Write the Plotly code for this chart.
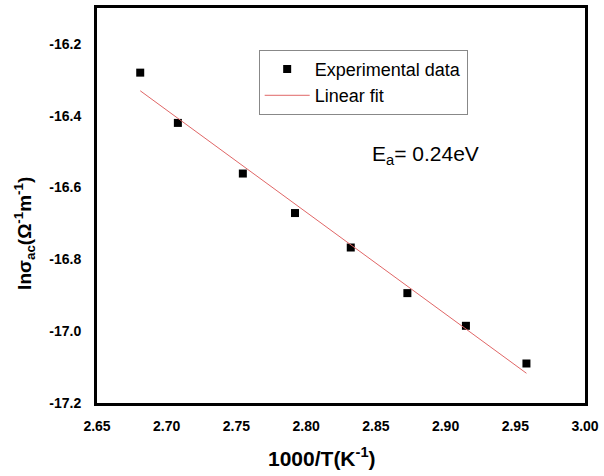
import numpy as np
import plotly.graph_objects as go

# Inverse temperature (1000/T, K^-1) and ln of AC conductivity
inv_T = [2.681, 2.708, 2.7546, 2.792, 2.832, 2.8726, 2.9146, 2.958]
ln_sigma = [-16.28, -16.42, -16.561, -16.671, -16.767, -16.894, -16.985, -17.09]

x_ticks = [2.65, 2.70, 2.75, 2.80, 2.85, 2.90, 2.95, 3.00]
y_ticks = [-17.2, -17.0, -16.8, -16.6, -16.4, -16.2]

# Least-squares Arrhenius fit
slope, intercept = np.polyfit(inv_T, ln_sigma, 1)
fit_x = [inv_T[0], inv_T[-1]]
fit_y = [slope * v + intercept for v in fit_x]

FONT = "Liberation Sans"

fig = go.Figure()
fig.add_trace(go.Scatter(
    x=inv_T, y=ln_sigma, mode="markers", name="Experimental data",
    marker=dict(symbol="square", size=8, color="black"),
))
fig.add_trace(go.Scatter(
    x=fit_x, y=fit_y, mode="lines", name="Linear fit",
    line=dict(color="#e06666", width=1),
))

axis_common = dict(
    showgrid=False, zeroline=False, showline=True, linecolor="black",
    linewidth=3, mirror=True, ticks="",
    tickfont=dict(family=FONT, size=14, color="black", weight=700),
)

fig.update_xaxes(range=[2.65, 3.00], tickvals=x_ticks,
                 ticktext=[f"{v:.2f}" for v in x_ticks],
                 ticklabelstandoff=8, **axis_common)
fig.update_yaxes(range=[-17.2, -16.1], tickvals=y_ticks,
                 ticktext=[f"{v:.1f}" for v in y_ticks],
                 ticklabelstandoff=10, **axis_common)

fig.add_annotation(
    xref="paper", yref="paper", x=(324 - 97) / 492, y=-(457 - 403) / 398,
    text="<b>1000/T(K<sup>-1</sup>)</b>", showarrow=False,
    font=dict(family=FONT, size=21, color="black"),
    xanchor="center", yanchor="middle",
)
fig.add_annotation(
    xref="paper", yref="paper", x=-(97 - 24) / 492, y=(403 - 232) / 398,
    text="<b>lnσ<sub>ac</sub>(Ω<sup>-1</sup>m<sup>-1</sup>)</b>", showarrow=False,
    textangle=-90,
    font=dict(family=FONT, size=19, color="black"),
    xanchor="center", yanchor="middle",
)
fig.add_annotation(
    x=2.8456, y=-16.51, text="E<sub>a</sub>= 0.24eV", showarrow=False,
    font=dict(family=FONT, size=21, color="black"),
    xanchor="left", yanchor="middle",
)

fig.update_layout(
    width=604, height=476,
    margin=dict(l=97, r=15, t=5, b=73),
    paper_bgcolor="white", plot_bgcolor="white",
    showlegend=True,
    legend=dict(
        x=(260 - 97) / 492, y=(403 - 47) / 398, xanchor="left", yanchor="top",
        bordercolor="#888888", borderwidth=1, bgcolor="white",
        font=dict(family=FONT, size=18, color="black"),
        itemwidth=45, tracegroupgap=0,
    ),
)

fig.write_html("out.html")
